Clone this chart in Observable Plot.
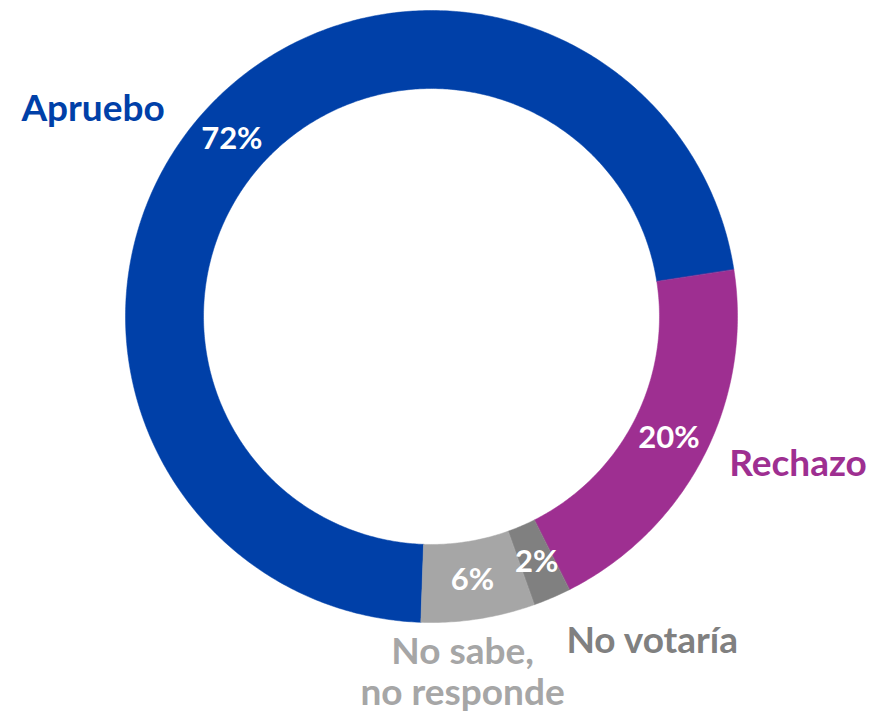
<!DOCTYPE html>
<html>
<head>
<meta charset="utf-8">
<script src="https://cdn.jsdelivr.net/npm/d3@7"></script>
<script src="https://cdn.jsdelivr.net/npm/@observablehq/plot@0.6"></script>
<style>
  html, body { margin: 0; padding: 0; background: #fff; }
  #chart svg { display: block; }
</style>
</head>
<body>
<div id="chart"></div>
<script>
// ---- Data ----
const categories = ["Apruebo", "Rechazo", "No votaría", "No sabe,\nno responde"];
const values = [72, 20, 2, 6];
const percentLabels = ["72%", "20%", "2%", "6%"];
const colors = ["#0040A8", "#9E2F91", "#808080", "#A6A6A6"];

// ---- Layout (style) ----
const W = 876, H = 717;
const cx = 431, cy = 316, R = 306;           // pixel centre and outer radius
const innerFrac = 0.745;                     // inner radius / outer radius
const startDeg = 182;                        // first slice start angle (clockwise from 12 o'clock)
const nameAngle = [301.7, 111.8, 145.7, 175.0];  // outside label angles
const nameRadius = [1.30, 1.29, 1.28, 1.163];    // outside label radii (× outer)

const pie = d3.pie().sort(null).value(d => d)
  .startAngle(startDeg * Math.PI / 180)
  .endAngle((startDeg + 360) * Math.PI / 180);
const arcs = pie(values);

function ringPolygon(a0, a1, r0, r1, key) {
  const n = Math.max(4, Math.ceil((a1 - a0) / 0.01));
  const pts = [];
  for (let i = 0; i <= n; i++) {
    const a = a0 + (a1 - a0) * i / n;
    pts.push({x: r1 * Math.sin(a), y: r1 * Math.cos(a), k: key});
  }
  for (let i = n; i >= 0; i--) {
    const a = a0 + (a1 - a0) * i / n;
    pts.push({x: r0 * Math.sin(a), y: r0 * Math.cos(a), k: key});
  }
  return pts;
}

const sliceMarks = arcs.map((a, i) =>
  Plot.line(ringPolygon(a.startAngle, a.endAngle, innerFrac, 1, categories[i]), {
    x: "x", y: "y", fill: colors[i], stroke: colors[i], strokeWidth: 0.5, curve: "linear-closed"
  })
);

const midR = (1 + innerFrac) / 2;
const pctData = arcs.map((a, i) => {
  const m = (a.startAngle + a.endAngle) / 2;
  return {x: midR * Math.sin(m), y: midR * Math.cos(m), t: percentLabels[i]};
});
const nameData = categories.map((c, i) => {
  const m = nameAngle[i] * Math.PI / 180;
  return {x: nameRadius[i] * Math.sin(m), y: nameRadius[i] * Math.cos(m), t: c, c: colors[i]};
});

const chart = Plot.plot({
  width: W, height: H,
  margin: 0,
  x: {domain: [-cx / R, (W - cx) / R], axis: null},
  y: {domain: [-(H - cy) / R, cy / R], axis: null},
  style: {fontFamily: "Lato, 'Open Sans', sans-serif", background: "white"},
  marks: [
    ...sliceMarks,
    Plot.text(pctData, {x: "x", y: "y", text: "t", fill: "white", fontSize: 31, fontWeight: "bold"}),
    Plot.text(nameData, {x: "x", y: "y", text: "t", fill: "c", fontSize: 37, fontWeight: "bold", lineHeight: 1.12})
  ]
});
document.getElementById("chart").appendChild(chart);
</script>
</body>
</html>
